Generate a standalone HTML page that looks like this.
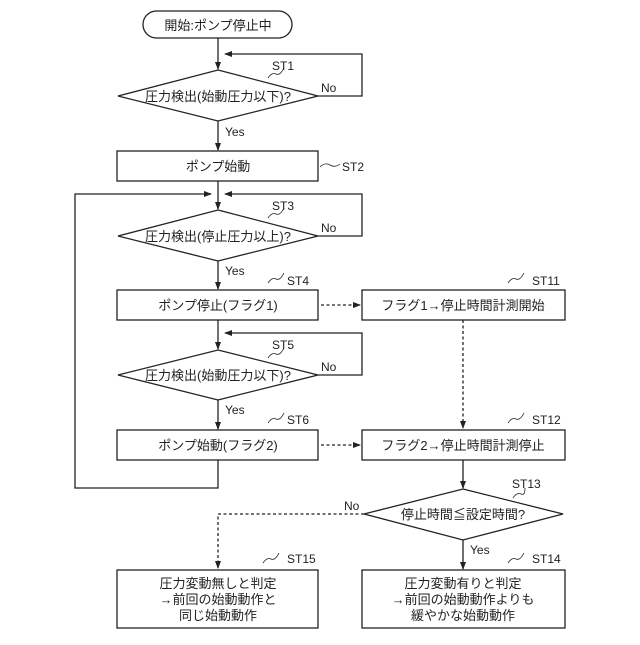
<!DOCTYPE html>
<html><head><meta charset="utf-8"><style>
body{margin:0;background:#fff}
svg text{font-family:"Liberation Sans","Noto Sans CJK JP",sans-serif;fill:#222}
</style></head><body>
<svg width="640" height="640" viewBox="0 0 640 640" xmlns="http://www.w3.org/2000/svg">
<defs><marker id="a" markerWidth="8" markerHeight="8" refX="7" refY="4" orient="auto" markerUnits="userSpaceOnUse"><path d="M0,1 L8,4 L0,7z" fill="#222"/></marker></defs>
<g stroke="#222" stroke-width="1.3" fill="none">
<rect x="143" y="11" width="149" height="27" rx="13.5"/>
<line x1="218" y1="38" x2="218" y2="69" marker-end="url(#a)"/>
<polygon points="218,70 318,96 218,121 118,96" fill="#fff"/>
<polyline points="318,96 362,96 362,54 225,54" marker-end="url(#a)"/>
<line x1="218" y1="121" x2="218" y2="150" marker-end="url(#a)"/>
<rect x="117" y="151" width="201" height="30"/>
<line x1="218" y1="181" x2="218" y2="209" marker-end="url(#a)"/>
<polygon points="218,210 318,236 218,261 118,236" fill="#fff"/>
<polyline points="318,236 362,236 362,194 225,194" marker-end="url(#a)"/>
<polyline points="218,460 218,488 75,488 75,194 211,194" marker-end="url(#a)"/>
<line x1="218" y1="261" x2="218" y2="289" marker-end="url(#a)"/>
<rect x="117" y="290" width="201" height="30"/>
<rect x="362" y="290" width="203" height="30"/>
<line x1="218" y1="320" x2="218" y2="349" marker-end="url(#a)"/>
<polygon points="218,350 318,375 218,400 118,375" fill="#fff"/>
<polyline points="318,375 362,375 362,333 225,333" marker-end="url(#a)"/>
<line x1="218" y1="400" x2="218" y2="429" marker-end="url(#a)"/>
<rect x="117" y="430" width="201" height="30"/>
<rect x="362" y="430" width="203" height="30"/>
<line x1="463" y1="460" x2="463" y2="488" marker-end="url(#a)"/>
<polygon points="463,489 563,514 463,540 364,514" fill="#fff"/>
<line x1="463" y1="540" x2="463" y2="569" marker-end="url(#a)"/>
<rect x="117" y="570" width="201" height="58"/>
<rect x="362" y="570" width="203" height="58"/>
<g stroke-dasharray="3,2.5">
<line x1="321" y1="305" x2="360" y2="305" marker-end="url(#a)"/>
<line x1="321" y1="445" x2="360" y2="445" marker-end="url(#a)"/>
<line x1="463" y1="320" x2="463" y2="428" marker-end="url(#a)"/>
<polyline points="364,514 218,514 218,568" marker-end="url(#a)"/>
</g>
<g stroke-width="0.8">
<path d="M268,78 q4,-6 8,-4 q4,2 8,-6"/>
<path d="M320,167 q5,-5 10,-2 q5,3 10,-1"/>
<path d="M268,218 q4,-6 8,-4 q4,2 8,-6"/>
<path d="M268,283 q4,-6 8,-4 q4,2 8,-6"/>
<path d="M268,358 q4,-6 8,-4 q4,2 8,-6"/>
<path d="M268,423 q4,-6 8,-4 q4,2 8,-6"/>
<path d="M508,283 q4,-6 8,-4 q4,2 8,-6"/>
<path d="M508,423 q4,-6 8,-4 q4,2 8,-6"/>
<path d="M513,498 q4,-6 8,-4 q4,2 4,-6"/>
<path d="M508,563 q4,-6 8,-4 q4,2 8,-6"/>
<path d="M263,563 q4,-6 8,-4 q4,2 8,-6"/>
</g>
</g>
<g font-size="13" text-anchor="middle">
<text x="218" y="30">開始:ポンプ停止中</text>
<text x="218" y="101">圧力検出(始動圧力以下)?</text>
<text x="218" y="171">ポンプ始動</text>
<text x="218" y="241">圧力検出(停止圧力以上)?</text>
<text x="218" y="310">ポンプ停止(フラグ1)</text>
<text x="463" y="310">フラグ1→停止時間計測開始</text>
<text x="218" y="380">圧力検出(始動圧力以下)?</text>
<text x="218" y="450">ポンプ始動(フラグ2)</text>
<text x="463" y="450">フラグ2→停止時間計測停止</text>
<text x="463" y="519">停止時間≦設定時間?</text>
<text x="218" y="588">圧力変動無しと判定</text>
<text x="218" y="604">→前回の始動動作と</text>
<text x="218" y="620">同じ始動動作</text>
<text x="463" y="588">圧力変動有りと判定</text>
<text x="463" y="604">→前回の始動動作よりも</text>
<text x="463" y="620">緩やかな始動動作</text>
</g>
<g font-size="12">
<text x="272" y="70">ST1</text>
<text x="342" y="171">ST2</text>
<text x="272" y="210">ST3</text>
<text x="287" y="285">ST4</text>
<text x="272" y="349">ST5</text>
<text x="287" y="424">ST6</text>
<text x="532" y="285">ST11</text>
<text x="532" y="424">ST12</text>
<text x="512" y="488">ST13</text>
<text x="532" y="563">ST14</text>
<text x="287" y="563">ST15</text>
<text x="321" y="92">No</text>
<text x="321" y="232">No</text>
<text x="321" y="371">No</text>
<text x="344" y="510">No</text>
<text x="225" y="136">Yes</text>
<text x="225" y="275">Yes</text>
<text x="225" y="414">Yes</text>
<text x="470" y="554">Yes</text>
</g>
</svg>
</body></html>
